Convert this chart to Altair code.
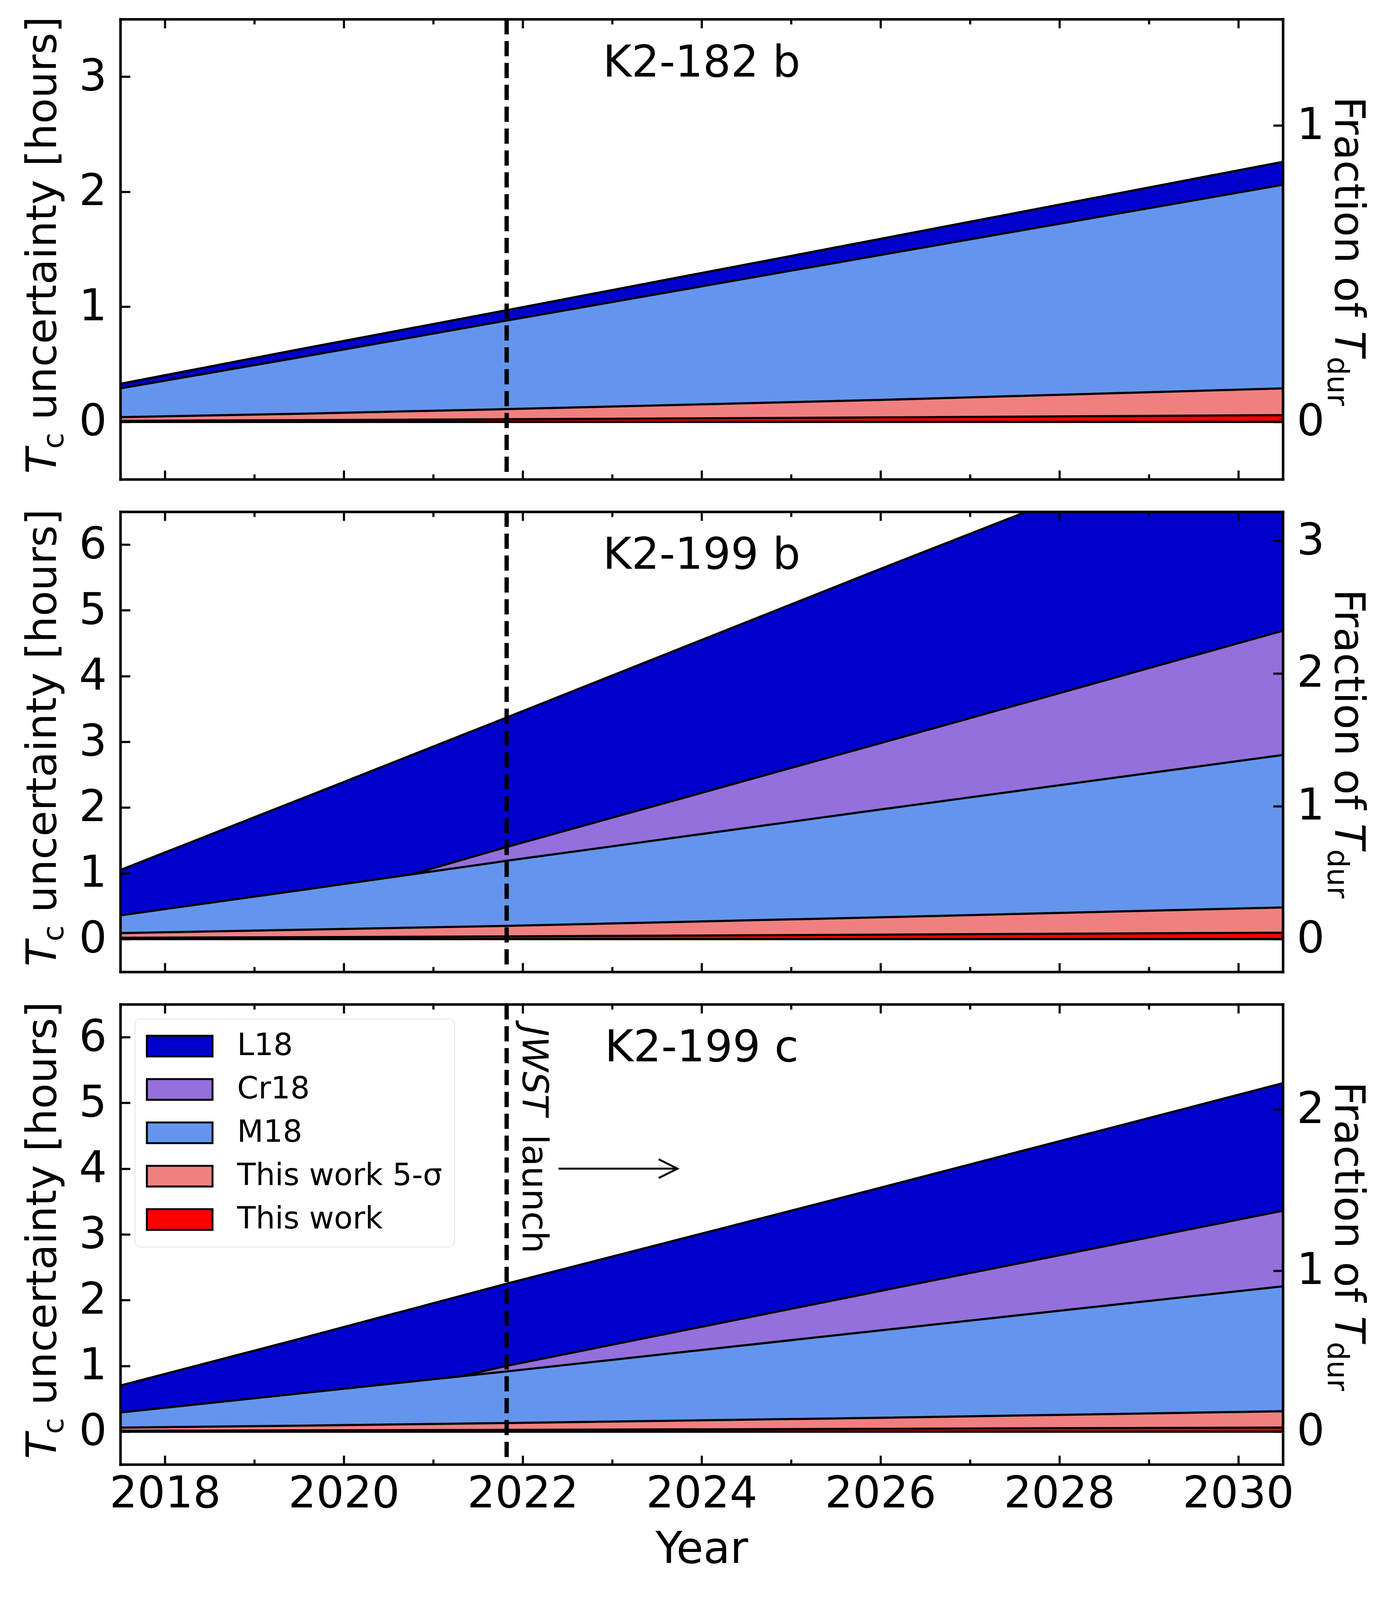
import altair as alt
import pandas as pd

# ---------------- data ----------------
YEARS = [2017.5, 2019.5, 2021.82, 2026.0, 2030.5]

B182_L18 = [0.33, 0.63, 0.97, 1.59, 2.26]
B182_M18 = [0.29, 0.56, 0.88, 1.45, 2.06]
B182_5SIG = [0.04, 0.07, 0.11, 0.19, 0.29]
B182_THIS = [0.008, 0.014, 0.022, 0.038, 0.058]

B199_L18 = [1.05, 2.12, 3.37, 5.63, 8.03]
B199_CR18_YEARS = [2017.5, 2019.5, 2020.7, 2021.82, 2026.0, 2030.5]
B199_CR18 = [0.15, 0.50, 0.96, 1.40, 2.98, 4.69]
B199_M18 = [0.36, 0.74, 1.19, 1.97, 2.80]
B199_5SIG = [0.09, 0.14, 0.20, 0.33, 0.48]
B199_THIS = [0.018, 0.028, 0.040, 0.066, 0.096]

C199_L18 = [0.70, 1.41, 2.25, 3.71, 5.30]
C199_CR18_YEARS = [2017.5, 2019.5, 2021.3, 2021.82, 2026.0, 2030.5]
C199_CR18 = [0.10, 0.45, 0.84, 1.00, 2.14, 3.36]
C199_M18 = [0.29, 0.58, 0.915, 1.54, 2.21]
C199_5SIG = [0.06, 0.09, 0.13, 0.21, 0.31]
C199_THIS = [0.012, 0.018, 0.026, 0.042, 0.062]

SERIES = ["L18", "Cr18", "M18", "This work 5-σ", "This work"]
COLORS = ["#0000cd", "#9370db", "#6495ed", "#f08080", "#ff0000"]

PLANETS = ["K2-182 b", "K2-199 b", "K2-199 c"]
T_DUR = [2.575, 2.02, 2.45]          # hours, sets the right-hand axis
Y_MAX = [3.5, 6.5, 6.5]
Y_MIN = -0.5
LABEL_Y = [3.0, 5.63, 5.63]
X_DOMAIN = [2017.5, 2030.5]
X_TICKS = list(range(2018, 2031))
JWST_LAUNCH = 2021.82
JWST_TEXT_POS = (2022.0, 6.17)
ARROW = (2022.40, 2023.73, 4.0)

# ---------------- styling ----------------
W, H = 2976, 1178
FONT = "DejaVu Sans"
FS = 112          # tick labels, panel labels
TFS = 107         # rotated axis titles
SUB = 75
dummy = pd.DataFrame({"d": [0]})


def build_df(series):
    rows = []
    for name, (yrs, vals) in series.items():
        for y, v in zip(yrs, vals):
            rows.append({"series": name, "year": y, "value": v})
    return pd.DataFrame(rows)


def make_axis(orient, values, minor_test, labels, label_expr="", label_padding=0,
              title=None, title_padding=0, major=25, minor=14):
    kw = dict(
        orient=orient, values=values, grid=False,
        domain=True, domainColor="black", domainWidth=6.5, domainCap="square",
        ticks=True, tickColor="black", tickWidth=5.5, tickSize={"expr": f"-{major}"},
        tickDash={"condition": {"test": minor_test, "value": [minor, 1000]}, "value": [1000, 1]},
        zindex=1, labels=labels, title=title,
    )
    if labels:
        kw.update(labelFont=FONT, labelFontSize=FS, labelColor="black",
                  labelPadding=label_padding, labelExpr=label_expr, format="d",
                  labelOverlap=False, labelFlush=False, labelLimit=1000)
    if title:
        kw.update(titleFont=FONT, titleFontSize=FS, titleFontWeight="normal",
                  titleColor="black", titlePadding=title_padding, titleLimit=1000)
    return alt.Axis(**kw)


LEGEND = alt.Legend(
    orient="top-left", offset=37, padding=31, title=None,
    labelFont=FONT, labelFontSize=78, labelLimit=3000, labelColor="black",
    labelOffset=108, symbolType="M-3.17,-1H3.17V1H-3.17Z", symbolSize=2809,
    symbolStrokeColor="black", symbolStrokeWidth=5, symbolOffset=45,
    rowPadding=33, fillColor="white", strokeColor="#c8c8c8", cornerRadius=15,
)


def text_at(text, x, y, angle, size, style="normal", dx=0, dy=0):
    return alt.Chart(dummy).mark_text(
        text=text, angle=angle, fontSize=size, font=FONT, fontStyle=style,
        align="left", baseline="alphabetic", dx=dx, dy=dy, color="black",
    ).encode(x=alt.value(x), y=alt.value(y))


def make_panel(i, series, show_legend, show_xlabels, jwst_text):
    ymax, tdur = Y_MAX[i], T_DUR[i]
    df = build_df(series)
    xscale = alt.Scale(domain=X_DOMAIN, nice=False, zero=False)
    yscale = alt.Scale(domain=[Y_MIN, ymax], nice=False, zero=False)
    cscale = alt.Scale(domain=SERIES, range=COLORS)
    y_ticks = [k * 0.5 for k in range(0, int(2 * ymax))]

    layers = []
    first = True
    for name in SERIES:
        if name not in series:
            continue
        sub = df[df.series == name]
        if first:
            xax = make_axis("bottom", X_TICKS, "datum.value % 2 !== 0", show_xlabels,
                            "datum.value % 2 === 0 ? datum.label : ''", 44,
                            title="Year" if show_xlabels else None, title_padding=32,
                            major=23, minor=13)
            yax = make_axis("left", y_ticks, "datum.value % 1 !== 0", True,
                            "datum.value % 1 === 0 ? datum.label : ''", 60)
        else:
            xax = None
            yax = None
        first = False
        layers.append(
            alt.Chart(sub).mark_area(stroke="black", strokeWidth=5.5, clip=True,
                                     fillOpacity=1).encode(
                x=alt.X("year:Q", scale=xscale, axis=xax),
                y=alt.Y("value:Q", scale=yscale, axis=yax),
                y2=alt.Y2Datum(0),
                color=alt.Color("series:N", scale=cscale,
                                legend=LEGEND if show_legend else None),
            )
        )

    # JWST launch line
    layers.append(
        alt.Chart(dummy).mark_rule(strokeDash=[39, 17], strokeWidth=11, color="black").encode(
            x=alt.XDatum(JWST_LAUNCH, scale=xscale, axis=None))
    )
    # planet label
    layers.append(
        alt.Chart(dummy).mark_text(text=PLANETS[i], fontSize=FS, font=FONT, align="center",
                                   baseline="alphabetic", color="black").encode(
            x=alt.XDatum(2024.0, scale=xscale, axis=None),
            y=alt.YDatum(LABEL_Y[i], scale=yscale, axis=None))
    )
    if jwst_text:
        for txt, style, dx in [("JWST", "italic", 0), ("launch", "normal", 278)]:
            layers.append(
                alt.Chart(dummy).mark_text(text=txt, fontSize=91, font=FONT, fontStyle=style,
                                           angle=90, align="left", baseline="alphabetic",
                                           dx=dx, color="black").encode(
                    x=alt.XDatum(JWST_TEXT_POS[0], scale=xscale, axis=None),
                    y=alt.YDatum(JWST_TEXT_POS[1], scale=yscale, axis=None))
            )
        layers.append(
            alt.Chart(dummy).mark_rule(strokeWidth=5, color="black").encode(
                x=alt.XDatum(ARROW[0], scale=xscale, axis=None),
                x2=alt.X2Datum(ARROW[1]),
                y=alt.YDatum(ARROW[2], scale=yscale, axis=None))
        )
        layers.append(
            alt.Chart(dummy).mark_point(shape="M-2,-1L0,0L-2,1", size=2304, filled=False,
                                        strokeWidth=5, color="black", opacity=1).encode(
                x=alt.XDatum(ARROW[1], scale=xscale, axis=None),
                y=alt.YDatum(ARROW[2], scale=yscale, axis=None))
        )

    # left title  T_c uncertainty [hours]
    ly = H / 2 + 575
    layers.append(text_at("T", -165, ly, 270, TFS, "italic"))
    layers.append(text_at("c", -165, ly, 270, SUB, dx=64, dy=19))
    layers.append(text_at("uncertainty [hours]", -165, ly, 270, TFS, dx=138))
    # right title  Fraction of T_dur
    ry = H / 2 - 391
    layers.append(text_at("Fraction of", W + 134, ry, 90, TFS))
    layers.append(text_at("T", W + 134, ry, 90, TFS, "italic", dx=600))
    layers.append(text_at("dur", W + 134, ry, 90, SUB, dx=666, dy=19))

    # twin axes: top ticks and right-hand "fraction of T_dur" axis
    frac_ticks = [k * 0.5 for k in range(0, 20) if k * 0.5 <= ymax / tdur]
    top_axis = make_axis("top", X_TICKS, "datum.value % 2 !== 0", False, major=23, minor=13)
    right_axis = make_axis("right", frac_ticks, "datum.value % 1 !== 0", True,
                           "datum.value % 1 === 0 ? datum.label : ''", 60)
    layers.append(
        alt.Chart(df).transform_calculate(frac=f"datum.value / {tdur}").mark_point(
            opacity=0, clip=True).encode(
            x=alt.X("year:Q", scale=alt.Scale(domain=X_DOMAIN, nice=False, zero=False),
                    axis=top_axis),
            y=alt.Y("frac:Q", scale=alt.Scale(domain=[Y_MIN / tdur, ymax / tdur], nice=False,
                                              zero=False), axis=right_axis),
        )
    )
    return alt.layer(*layers).resolve_scale(x="independent", y="independent").properties(
        width=W, height=H)


P1 = {"L18": (YEARS, B182_L18), "M18": (YEARS, B182_M18),
      "This work 5-σ": (YEARS, B182_5SIG), "This work": (YEARS, B182_THIS)}
P2 = {"L18": (YEARS, B199_L18), "Cr18": (B199_CR18_YEARS, B199_CR18), "M18": (YEARS, B199_M18),
      "This work 5-σ": (YEARS, B199_5SIG), "This work": (YEARS, B199_THIS)}
P3 = {"L18": (YEARS, C199_L18), "Cr18": (C199_CR18_YEARS, C199_CR18), "M18": (YEARS, C199_M18),
      "This work 5-σ": (YEARS, C199_5SIG), "This work": (YEARS, C199_THIS)}

chart = alt.vconcat(
    make_panel(0, P1, False, False, False),
    make_panel(1, P2, False, False, False),
    make_panel(2, P3, True, True, True),
    spacing=69,
).resolve_scale(x="independent", y="independent", color="independent").configure_view(
    stroke="transparent", strokeWidth=0).configure_legend(strokeWidth=6).configure(
    font=FONT).properties(
    padding={"left": 48, "top": 33, "right": 30, "bottom": 30}, background="white")

chart.save("out.html", embed_options={"renderer": "svg", "actions": False})
